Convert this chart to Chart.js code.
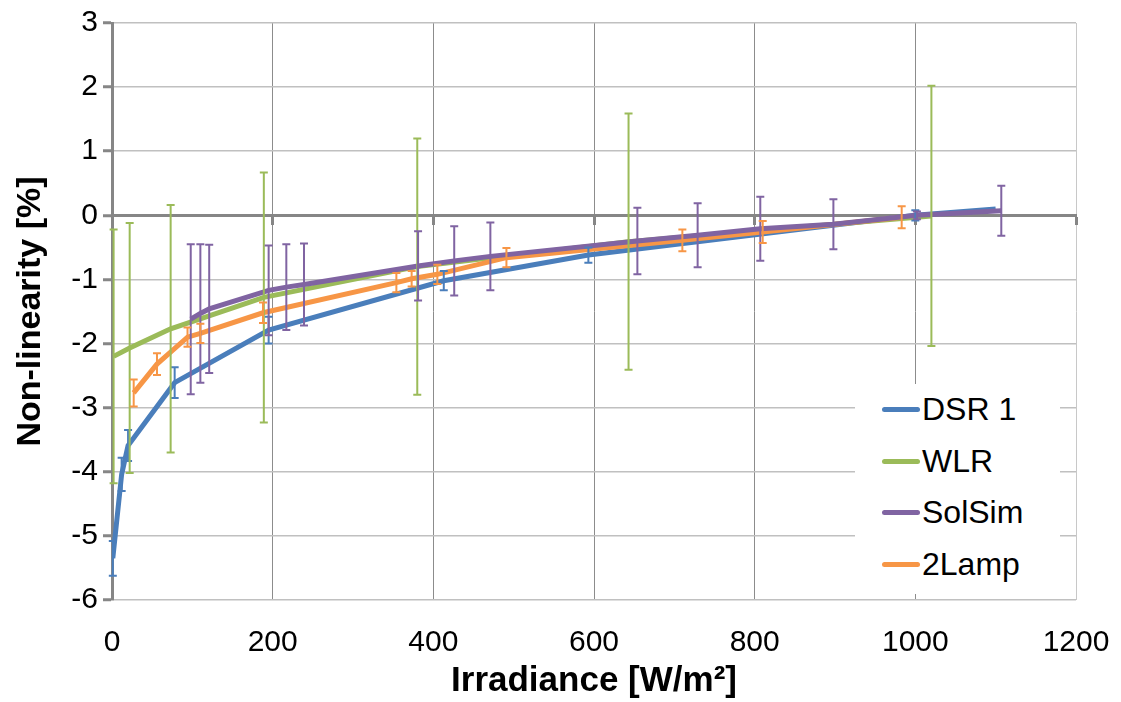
<!DOCTYPE html>
<html>
<head>
<meta charset="utf-8">
<script src="https://cdn.jsdelivr.net/npm/chart.js@4"></script>
<style>
  body { margin: 0; background: #fff; }
  #wrap { position: relative; width: 1121px; height: 702px; }
  #legend {
    position: absolute; left: 855px; top: 384px; width: 205px;
    background: #fff; padding: 0 0 4px 0;
    font-family: "Liberation Sans", Arial, sans-serif; font-size: 32px; color: #000;
  }
  .item { display: flex; align-items: center; height: 51.5px; padding-left: 27px; }
  .swatch { width: 38px; height: 5px; border-radius: 3px; margin-right: 2px; }
</style>
</head>
<body>
<div id="wrap">
  <canvas id="chart"></canvas>
  <div id="legend"></div>
</div>
<script>
// DSR 1
const dsrX = [1, 12, 20, 78, 195, 413, 593, 1000, 1100];
const dsrY = [-5.35, -4.04, -3.59, -2.61, -1.79, -1.02, -0.62, 0, 0.1];
const dsrErr = [0.27, 0.26, 0.24, 0.24, 0.21, 0.15, 0.12, 0.08, 0];

// WLR
const wlrX = [2, 22, 73, 189, 380, 643, 1020];
const wlrY = [-2.2, -2.07, -1.77, -1.28, -0.8, -0.41, -0.01];
const wlrErr = [1.98, 1.95, 1.93, 1.95, 2.0, 2.0, 2.03];

// SolSim
const solX = [98, 110, 121, 195, 217, 239, 381, 426, 471, 654, 729, 807, 898, 1002, 1107];
const solY = [-1.62, -1.53, -1.46, -1.17, -1.12, -1.08, -0.79, -0.71, -0.64, -0.40, -0.31, -0.21, -0.14, 0, 0.07];
const solErr = [1.17, 1.08, 1.0, 0.7, 0.67, 0.64, 0.54, 0.54, 0.53, 0.52, 0.5, 0.5, 0.39, 0.06, 0.39];

// 2Lamp
const lampX = [27, 56, 94, 110, 188, 354, 373, 405, 491, 710, 810, 983];
const lampY = [-2.77, -2.32, -1.9, -1.84, -1.52, -1.05, -0.99, -0.92, -0.66, -0.39, -0.26, -0.03];
const lampErr = [0.21, 0.17, 0.15, 0.15, 0.16, 0.15, 0.12, 0.15, 0.15, 0.17, 0.17, 0.17];

const seriesNames = ["DSR 1", "WLR", "SolSim", "2Lamp"];
const seriesColors = ["#4a7ebb", "#9bbb59", "#8064a2", "#f79646"];

const xTicks = [0, 200, 400, 600, 800, 1000, 1200];

function toPoints(xs, ys) {
  return xs.map((x, i) => ({ x: x, y: ys[i] }));
}

Chart.defaults.font.family = '"Liberation Sans", Arial, sans-serif';
Chart.defaults.color = "#000";

// vertical error bars with caps, drawn from each dataset's err array
const errorBars = {
  id: "errorBars",
  afterDatasetsDraw(chart) {
    const ctx = chart.ctx;
    const xs = chart.scales.x, ys = chart.scales.y;
    chart.data.datasets.forEach(ds => {
      ctx.save();
      ctx.strokeStyle = ds.borderColor;
      ctx.lineWidth = 2;
      ds.data.forEach((p, i) => {
        const e = ds.err[i];
        if (!e) return;
        const px = xs.getPixelForValue(p.x);
        const top = ys.getPixelForValue(p.y + e);
        const bot = ys.getPixelForValue(p.y - e);
        ctx.beginPath();
        ctx.moveTo(px, top); ctx.lineTo(px, bot);
        ctx.moveTo(px - 4, top); ctx.lineTo(px + 4, top);
        ctx.moveTo(px - 4, bot); ctx.lineTo(px + 4, bot);
        ctx.stroke();
      });
      ctx.restore();
    });
  }
};

const allX = [dsrX, wlrX, solX, lampX];
const allY = [dsrY, wlrY, solY, lampY];
const allErr = [dsrErr, wlrErr, solErr, lampErr];
const drawOrder = [3, 2, 0, 1];

const datasets = seriesNames.map((name, i) => ({
  label: name,
  data: toPoints(allX[i], allY[i]),
  err: allErr[i],
  borderColor: seriesColors[i],
  backgroundColor: seriesColors[i],
  borderWidth: 5,
  pointRadius: 0,
  tension: 0,
  order: drawOrder[i]
}));

const chart = new Chart(document.getElementById("chart"), {
  type: "line",
  data: { datasets },
  options: {
    responsive: true,
    maintainAspectRatio: false,
    animation: false,
    layout: { padding: { top: 9, right: 0, left: 0, bottom: 0 } },
    plugins: { legend: { display: false }, tooltip: { enabled: false } },
    scales: {
      x: {
        type: "linear",
        min: 0, max: 1200,
        afterBuildTicks: s => { s.ticks = xTicks.map(v => ({ value: v })); },
        ticks: { font: { size: 30 }, padding: 25, callback: v => String(v) },
        grid: {
          color: c => (c.tick && c.tick.value === 1200 ? "#c8c8c8" : "#8c8c8c"),
          lineWidth: 1,
          drawTicks: false
        },
        border: { display: false },
        title: {
          display: true, text: "Irradiance [W/m²]",
          font: { size: 35, weight: "bold" }, padding: { top: 0, bottom: 0 }
        },
        afterFit: s => { s.height = 102; s.paddingLeft = 0; s.paddingRight = 45; }
      },
      x0: {
        type: "linear", axis: "x",
        position: { y: 0 },
        min: 0, max: 1200,
        afterBuildTicks: s => { s.ticks = xTicks.map(v => ({ value: v })); },
        ticks: { display: false },
        grid: { drawOnChartArea: false, tickLength: 8, tickColor: "#868686", tickWidth: 3 },
        border: { display: true, color: "#868686", width: 3 },
        afterFit: s => { s.paddingLeft = 0; s.paddingRight = 0; }
      },
      y: {
        min: -6, max: 3,
        ticks: { stepSize: 1, font: { size: 30 }, padding: 5 },
        grid: { color: "#c0c0c0", lineWidth: 1.5, tickLength: 9, tickColor: "#868686", tickWidth: 3 },
        border: { display: true, color: "#868686", width: 3 },
        title: {
          display: true, text: "Non-linearity [%]",
          font: { size: 34, weight: "bold" }, padding: { top: 10, bottom: 0 }
        },
        afterFit: s => { s.width = 112; }
      }
    }
  },
  plugins: [errorBars]
});

// legend inside the plot, bottom right
const legendEl = document.getElementById("legend");
chart.data.datasets.forEach(ds => {
  const row = document.createElement("div");
  row.className = "item";
  row.innerHTML = `<span class="swatch" style="background:${ds.borderColor}"></span><span>${ds.label}</span>`;
  legendEl.appendChild(row);
});
</script>
</body>
</html>
